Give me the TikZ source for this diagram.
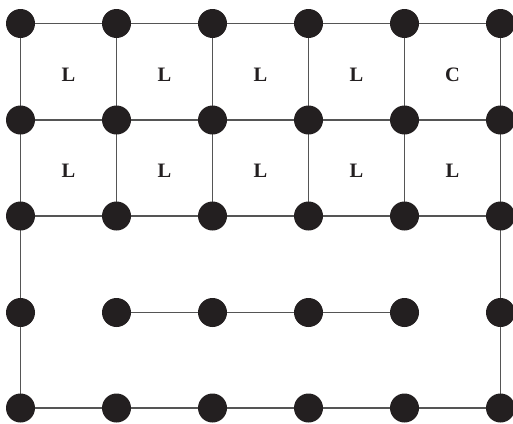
\documentclass[tikz,border=0pt]{standalone}
\usepackage{fontspec}
\setmainfont{Liberation Serif}
\definecolor{dotc}{HTML}{231F20}
\definecolor{linec}{HTML}{555555}
\begin{document}
\begin{tikzpicture}[x=1pt,y=-1pt,
  dot/.style={circle,fill=dotc,minimum size=29pt,inner sep=0pt},
  edge/.style={draw=linec,line width=1.5pt},
  lab/.style={font=\fontsize{20.5}{20.5}\selectfont\bfseries,text=dotc,inner sep=0pt}]
\useasboundingbox (0,0) rectangle (513,423);
\def\xs{{20.5,116.5,212.5,308.5,404.5,500.5}}
\def\ys{{23.5,120,216,312.5,408}}
% coordinates
\foreach \i in {0,...,5}{
  \foreach \j in {0,...,4}{
    \pgfmathsetmacro{\xx}{\xs[\i]}
    \pgfmathsetmacro{\yy}{\ys[\j]}
    \coordinate (p\i\j) at (\xx,\yy);
  }
}
% edges: grid rows 0..2
\foreach \j in {0,1,2}{
  \draw[edge] (p0\j) -- (p5\j);
}
\foreach \i in {0,...,5}{
  \draw[edge] (p\i0) -- (p\i2);
}
\draw[edge] (p02) -- (p04) -- (p54) -- (p52);
\draw[edge] (p13) -- (p43);
% dots
\foreach \i in {0,...,5}{
  \foreach \j in {0,...,4}{
    \node[dot] (d\i\j) at (p\i\j) {};
  }
}
% labels
\foreach \i/\t in {0/L,1/L,2/L,3/L,4/C}{
  \path (p\i0) -- node[lab,yshift=-3pt] (la\i) {\t} (p\the\numexpr\i+1\relax1);
}
\foreach \i/\t in {0/L,1/L,2/L,3/L,4/L}{
  \path (p\i1) -- node[lab,yshift=-3pt] (lb\i) {\t} (p\the\numexpr\i+1\relax2);
}
\end{tikzpicture}
\end{document}
